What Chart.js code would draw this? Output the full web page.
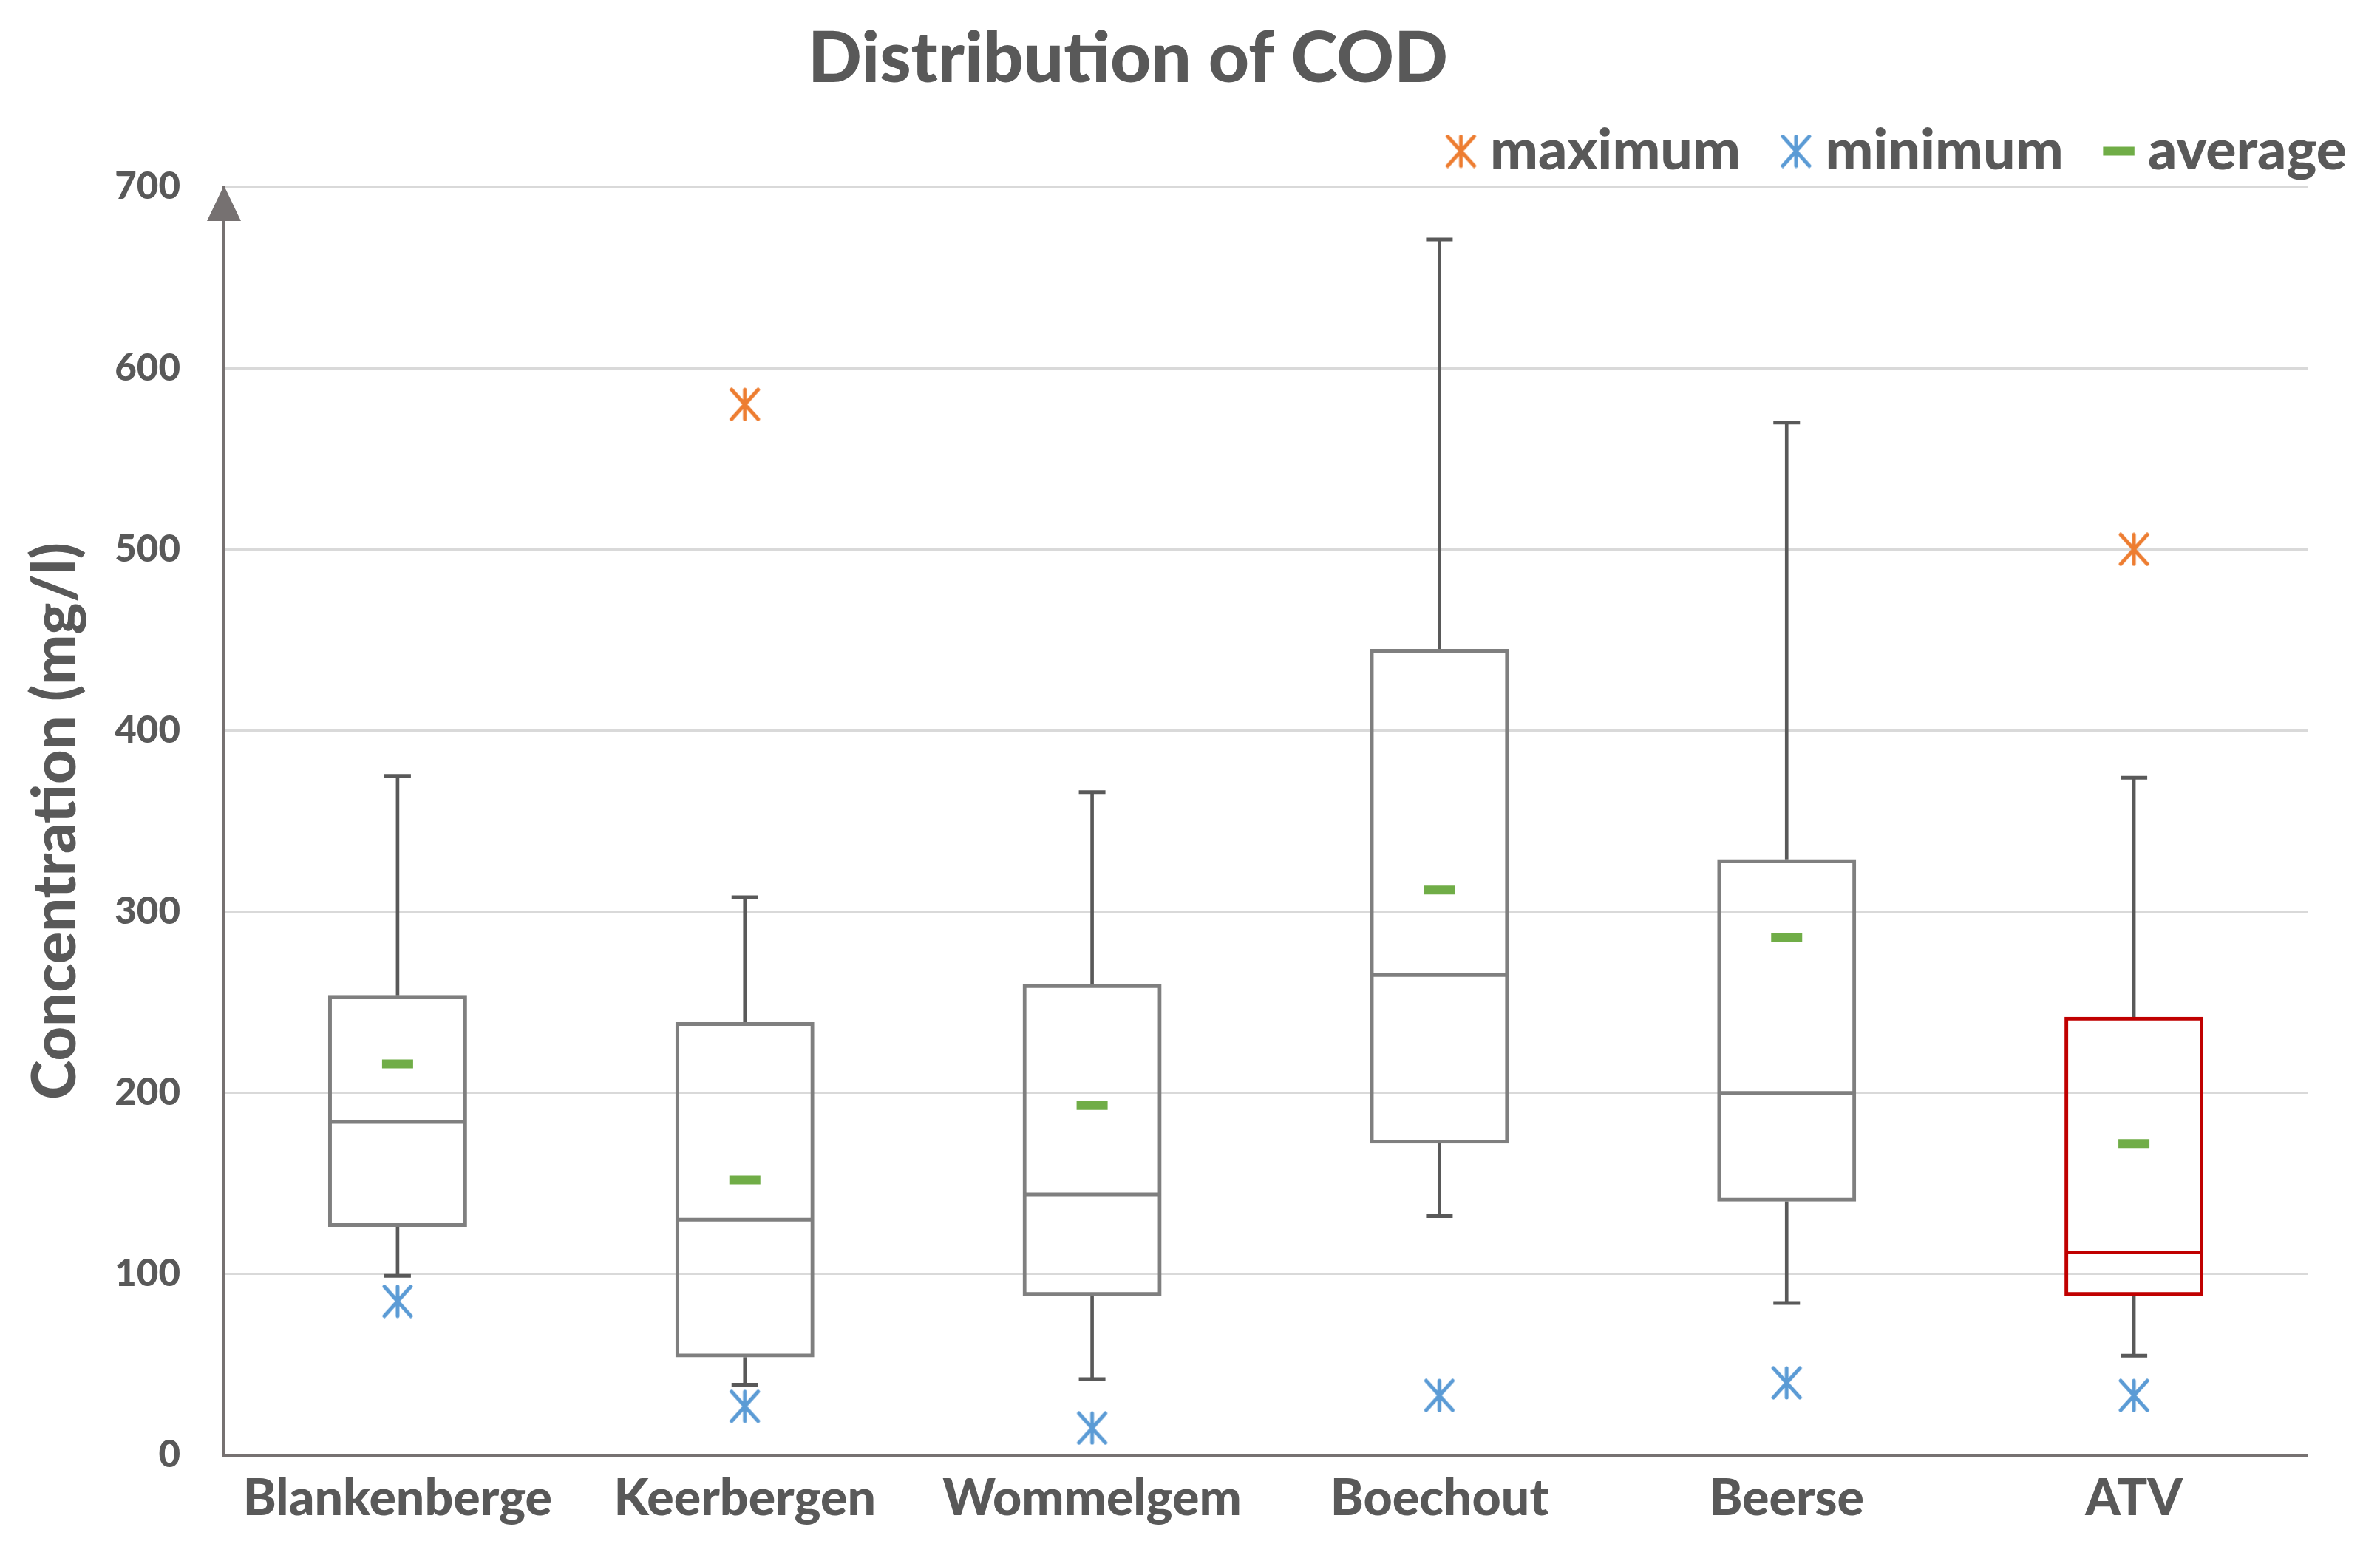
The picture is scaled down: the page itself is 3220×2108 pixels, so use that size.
<!DOCTYPE html>
<html>
<head>
<meta charset="utf-8">
<script src="https://cdn.jsdelivr.net/npm/chart.js@4.4.1/dist/chart.umd.min.js"></script>
<style>
  html, body { margin: 0; padding: 0; background: #fff; overflow: hidden; }
  #wrap { width: 3220px; height: 2108px; }
</style>
</head>
<body>
<div id="wrap"><canvas id="chart" width="3220" height="2108"></canvas></div>
<script>
const categories = ["Blankenberge", "Keerbergen", "Wommelgem", "Boechout", "Beerse", "ATV"];
const whiskerLow = [99, 39, 42, 132, 84, 55];
const q1Vals = [126, 54, 88, 172, 140, 88];
const medianVals = [184, 130, 144, 265, 200, 112];
const q3Vals = [254, 239, 260, 445, 329, 242];
const whiskerHigh = [375, 308, 366, 671, 570, 374];
const averageVals = [216, 152, 193, 312, 286, 172];
const minimumVals = [85, 27, 15, 33, 40, 33];
const maximumVals = [null, 580, null, null, null, 500];
const yTicks = [0, 100, 200, 300, 400, 500, 600, 700];

const textColor = "#595959";
const axisColor = "#767171";
const boxColors = ["#7f7f7f", "#7f7f7f", "#7f7f7f", "#7f7f7f", "#7f7f7f", "#c00000"];
const fontFamily = "Lato, 'Open Sans', sans-serif";

const rightPad = 67;
const titleShift = -84 + rightPad / 2;
const legendShift = 29 + rightPad;

function starMarker(color) {
  const c = document.createElement("canvas");
  c.width = 46;
  c.height = 46;
  const g = c.getContext("2d");
  g.strokeStyle = color;
  g.lineWidth = 5;
  g.lineCap = "round";
  g.beginPath();
  g.moveTo(23, 3); g.lineTo(23, 43);
  g.moveTo(5, 3); g.lineTo(41, 43);
  g.moveTo(41, 3); g.lineTo(5, 43);
  g.stroke();
  return c;
}

const decorations = {
  id: "decorations",
  afterLayout(chart) {
    const t = chart.titleBlock;
    if (t) { t.left += titleShift; t.right += titleShift; }
    const l = chart.legend;
    if (l) { l.left += legendShift; l.right += legendShift; }
  },
  afterDatasetsDraw(chart) {
    // arrow head on top of the value axis
    const y = chart.scales.y;
    const x0 = chart.chartArea.left;
    const tip = y.getPixelForValue(yTicks[yTicks.length - 1]);
    const ctx = chart.ctx;
    ctx.save();
    ctx.fillStyle = axisColor;
    ctx.beginPath();
    ctx.moveTo(x0, tip - 2);
    ctx.lineTo(x0 + 23, tip + 46);
    ctx.lineTo(x0 - 23, tip + 46);
    ctx.closePath();
    ctx.fill();
    ctx.restore();
  }
};

const orangeStar = starMarker("#ed7d31");
const blueStar = starMarker("#5b9bd5");

new Chart(document.getElementById("chart"), {
  type: "bar",
  data: {
    labels: categories,
    datasets: [
      {
        type: "line", label: "maximum", data: maximumVals, order: 0,
        showLine: false, pointStyle: orangeStar, pointRadius: 20,
        borderColor: "#ed7d31", backgroundColor: "#ed7d31", borderWidth: 4
      },
      {
        type: "line", label: "minimum", data: minimumVals, order: 1,
        showLine: false, pointStyle: blueStar, pointRadius: 20,
        borderColor: "#5b9bd5", backgroundColor: "#5b9bd5", borderWidth: 4
      },
      {
        type: "line", label: "average", data: averageVals, order: 2,
        showLine: false, pointStyle: "line", pointRadius: 21, pointBorderWidth: 12,
        borderWidth: 12, borderColor: "#70ad47", backgroundColor: "#70ad47"
      },
      {
        type: "line", label: "median", data: medianVals, order: 3,
        showLine: false, pointStyle: "line", pointRadius: 93, pointBorderWidth: 5,
        borderWidth: 5, pointBorderColor: boxColors, borderColor: boxColors
      },
      {
        type: "line", label: "capHigh", data: whiskerHigh, order: 4,
        showLine: false, pointStyle: "line", pointRadius: 18, pointBorderWidth: 5,
        borderWidth: 5, borderColor: textColor
      },
      {
        type: "line", label: "capLow", data: whiskerLow, order: 5,
        showLine: false, pointStyle: "line", pointRadius: 18, pointBorderWidth: 5,
        borderWidth: 5, borderColor: textColor
      },
      {
        label: "box", data: categories.map((_, i) => [q1Vals[i], q3Vals[i]]), order: 6,
        grouped: false, barPercentage: 0.4, categoryPercentage: 1,
        backgroundColor: "rgba(0,0,0,0)", borderColor: boxColors, borderWidth: 5, borderSkipped: false
      },
      {
        label: "whiskerHigh", data: categories.map((_, i) => [q3Vals[i], whiskerHigh[i]]), order: 7,
        grouped: false, barThickness: 4, backgroundColor: textColor, borderWidth: 0
      },
      {
        label: "whiskerLow", data: categories.map((_, i) => [whiskerLow[i], q1Vals[i]]), order: 8,
        grouped: false, barThickness: 4, backgroundColor: textColor, borderWidth: 0
      }
    ]
  },
  options: {
    responsive: true,
    maintainAspectRatio: false,
    devicePixelRatio: 1,
    animation: false,
    layout: { padding: { top: 0, left: 0, right: rightPad, bottom: 0 } },
    plugins: {
      title: {
        display: true,
        text: "Distribution of COD",
        color: textColor,
        font: { family: fontFamily, size: 96, weight: "900", lineHeight: 1 },
        padding: { top: 32, bottom: -36 }
      },
      legend: {
        display: true,
        position: "top",
        align: "end",
        labels: {
          usePointStyle: true,
          boxWidth: 2,
          boxHeight: 30,
          padding: 74,
          color: textColor,
          font: { family: fontFamily, size: 77, weight: "900" },
          filter: item => ["maximum", "minimum", "average"].includes(item.text)
        }
      },
      tooltip: { enabled: false }
    },
    scales: {
      x: {
        grid: { display: false },
        border: { display: true, color: axisColor, width: 4 },
        ticks: {
          color: textColor, padding: 10, maxRotation: 0, autoSkip: false,
          font: { family: fontFamily, size: 68, weight: "900" }
        },
        afterFit: s => { s.height = 139; s.paddingLeft = 0; s.paddingRight = 0; }
      },
      y: {
        min: 0,
        max: 700,
        afterBuildTicks: s => { s.ticks = yTicks.map(v => ({ value: v })); },
        grid: { color: "#d9d9d9", lineWidth: 3, drawTicks: false },
        border: { display: true, color: axisColor, width: 4 },
        ticks: {
          color: textColor, padding: 59,
          font: { family: fontFamily, size: 51, weight: "900" }
        },
        title: {
          display: true,
          text: "Concentration (mg/l)",
          color: textColor,
          font: { family: fontFamily, size: 81, weight: "900" },
          padding: { top: 27, bottom: 0 }
        },
        afterFit: s => { s.width = 303; }
      }
    }
  },
  plugins: [decorations]
});
</script>
</body>
</html>
